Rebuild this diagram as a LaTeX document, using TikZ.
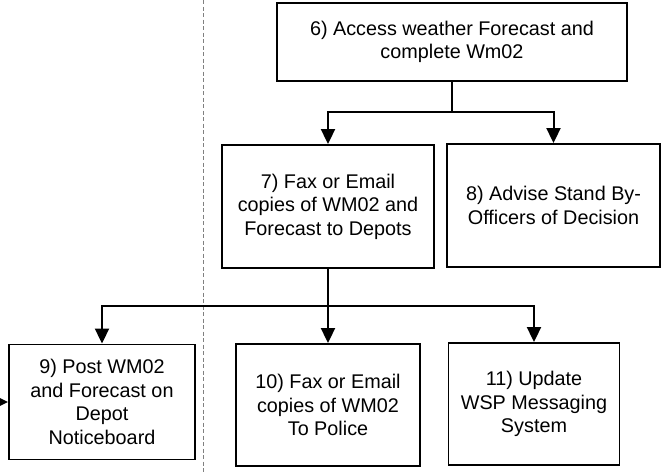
\documentclass[tikz,border=0pt]{standalone}
\usepackage{fontspec}
\setmainfont{Liberation Sans}
\usetikzlibrary{arrows.meta}
\begin{document}
\begin{tikzpicture}[x=1pt,y=-1pt,
  box/.style={draw=black,line width=1.9pt,fill=white,align=center,inner sep=0pt,
    font=\fontsize{19.8}{23.6}\selectfont},
  arr/.style={line width=2pt,-{Triangle[width=14pt,length=15pt]}},
  divider/.style={draw=gray,line width=0.9pt,dash pattern=on 4pt off 2.5pt}]
\useasboundingbox (0,0) rectangle (670,472);
\coordinate (dtop) at (203,0);
\coordinate (dbot) at (203,472);
\draw[divider] (dtop) -- (dbot);
\node[box,minimum width=350pt,minimum height=78pt] (b6) at (452,42)
  {6) Access weather Forecast and\\complete Wm02};
\node[box,minimum width=212pt,minimum height=123pt] (b7) at (328,206.5)
  {7) Fax or Email\\copies of WM02 and\\Forecast to Depots};
\node[box,minimum width=213pt,minimum height=123pt] (b8) at (553.5,205.5)
  {8) Advise Stand By-\\Officers of Decision};
\node[box,minimum width=186pt,minimum height=115pt] (b9) at (102,402)
  {9) Post WM02\\and Forecast on\\Depot\\Noticeboard};
\node[box,minimum width=184pt,minimum height=122pt] (b10) at (328,405)
  {10) Fax or Email\\copies of WM02\\To Police};
\node[box,minimum width=171pt,minimum height=122pt] (b11) at (534,404)
  {11) Update\\WSP Messaging\\System};
\coordinate (j1) at (452,112);
\coordinate (j2) at (328,306);
\coordinate (lin) at (-12,402);
\draw[line width=2pt] (b6.south) -- (j1);
\draw[arr] (j1) -| (b7.north);
\draw[arr] (j1) -| (b8.north);
\draw[arr] (b7.south) -- (b10.north);
\draw[arr] (j2) -| (b9.north);
\draw[arr] (j2) -| (b11.north);
\draw[arr] (lin) -- (b9.west);
\end{tikzpicture}
\end{document}
